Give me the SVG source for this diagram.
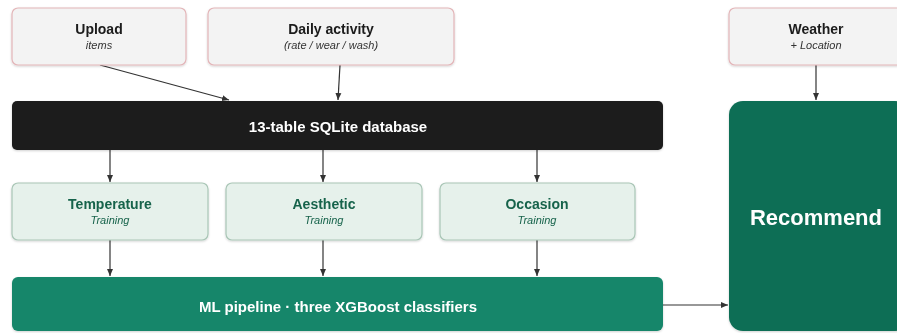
<svg xmlns="http://www.w3.org/2000/svg" width="897" height="333" viewBox="0 0 897 333">
<defs>
<style>
.src{fill:#f3f3f3;stroke:#e3b5b8;stroke-width:1.2}
.trn{fill:#e6f1eb;stroke:#a9c6b6;stroke-width:1.2}
.t{font-family:"Liberation Sans",Arial,sans-serif;text-anchor:middle}
.h{font-size:14px;font-weight:bold;fill:#1a1a1a}
.s{font-size:11px;font-style:italic;fill:#333}
.gh{font-size:14px;font-weight:bold;fill:#17634b}
.gs{font-size:11px;font-style:italic;fill:#17634b}
.w{font-size:15px;font-weight:bold;fill:#fff}
.edge{stroke:#333;stroke-width:1.2;fill:none;marker-end:url(#ah)}
</style>
<marker id="ah" markerWidth="8" markerHeight="8" refX="7" refY="4" orient="auto" markerUnits="userSpaceOnUse">
<path d="M0,1 L7,4 L0,7 Z" fill="#333"/>
</marker>
<filter id="sh" x="-5%" y="-10%" width="110%" height="130%">
<feDropShadow dx="0" dy="1" stdDeviation="1" flood-color="#000" flood-opacity="0.18"/>
</filter>
</defs>
<g id="connectors">
<line class="edge" x1="100" y1="65" x2="229" y2="100"/>
<line class="edge" x1="340" y1="65" x2="338" y2="100"/>
<line class="edge" x1="816" y1="65" x2="816" y2="100"/>
<line class="edge" x1="110" y1="150" x2="110" y2="182"/>
<line class="edge" x1="323" y1="150" x2="323" y2="182"/>
<line class="edge" x1="537" y1="150" x2="537" y2="182"/>
<line class="edge" x1="110" y1="240" x2="110" y2="276"/>
<line class="edge" x1="323" y1="240" x2="323" y2="276"/>
<line class="edge" x1="537" y1="240" x2="537" y2="276"/>
<line class="edge" x1="663" y1="305" x2="728" y2="305"/>
</g>
<g id="upload" filter="url(#sh)">
<rect class="src" x="12" y="8" width="174" height="57" rx="6"/>
<text class="t h" x="99" y="34">Upload</text>
<text class="t s" x="99" y="49">items</text>
</g>
<g id="daily" filter="url(#sh)">
<rect class="src" x="208" y="8" width="246" height="57" rx="6"/>
<text class="t h" x="331" y="34">Daily activity</text>
<text class="t s" x="331" y="49">(rate / wear / wash)</text>
</g>
<g id="weather" filter="url(#sh)">
<rect class="src" x="729" y="8" width="174" height="57" rx="6"/>
<text class="t h" x="816" y="34">Weather</text>
<text class="t s" x="816" y="49">+ Location</text>
</g>
<g id="database" filter="url(#sh)">
<rect x="12" y="101" width="651" height="49" rx="5" fill="#1b1b1b"/>
<text class="t w" x="338" y="132">13-table SQLite database</text>
</g>
<g id="temperature" filter="url(#sh)">
<rect class="trn" x="12" y="183" width="196" height="57" rx="6"/>
<text class="t gh" x="110" y="209">Temperature</text>
<text class="t gs" x="110" y="224">Training</text>
</g>
<g id="aesthetic" filter="url(#sh)">
<rect class="trn" x="226" y="183" width="196" height="57" rx="6"/>
<text class="t gh" x="324" y="209">Aesthetic</text>
<text class="t gs" x="324" y="224">Training</text>
</g>
<g id="occasion" filter="url(#sh)">
<rect class="trn" x="440" y="183" width="195" height="57" rx="6"/>
<text class="t gh" x="537" y="209">Occasion</text>
<text class="t gs" x="537" y="224">Training</text>
</g>
<g id="ml-pipeline" filter="url(#sh)">
<rect x="12" y="277" width="651" height="54" rx="6" fill="#14866a"/>
<text class="t w" x="338" y="312">ML pipeline · three XGBoost classifiers</text>
</g>
<g id="recommend" filter="url(#sh)">
<rect x="729" y="101" width="180" height="230" rx="14" fill="#0e6e55"/>
<text class="t" x="816" y="225" style="font-size:22px;font-weight:bold;fill:#fff">Recommend</text>
</g>
</svg>
